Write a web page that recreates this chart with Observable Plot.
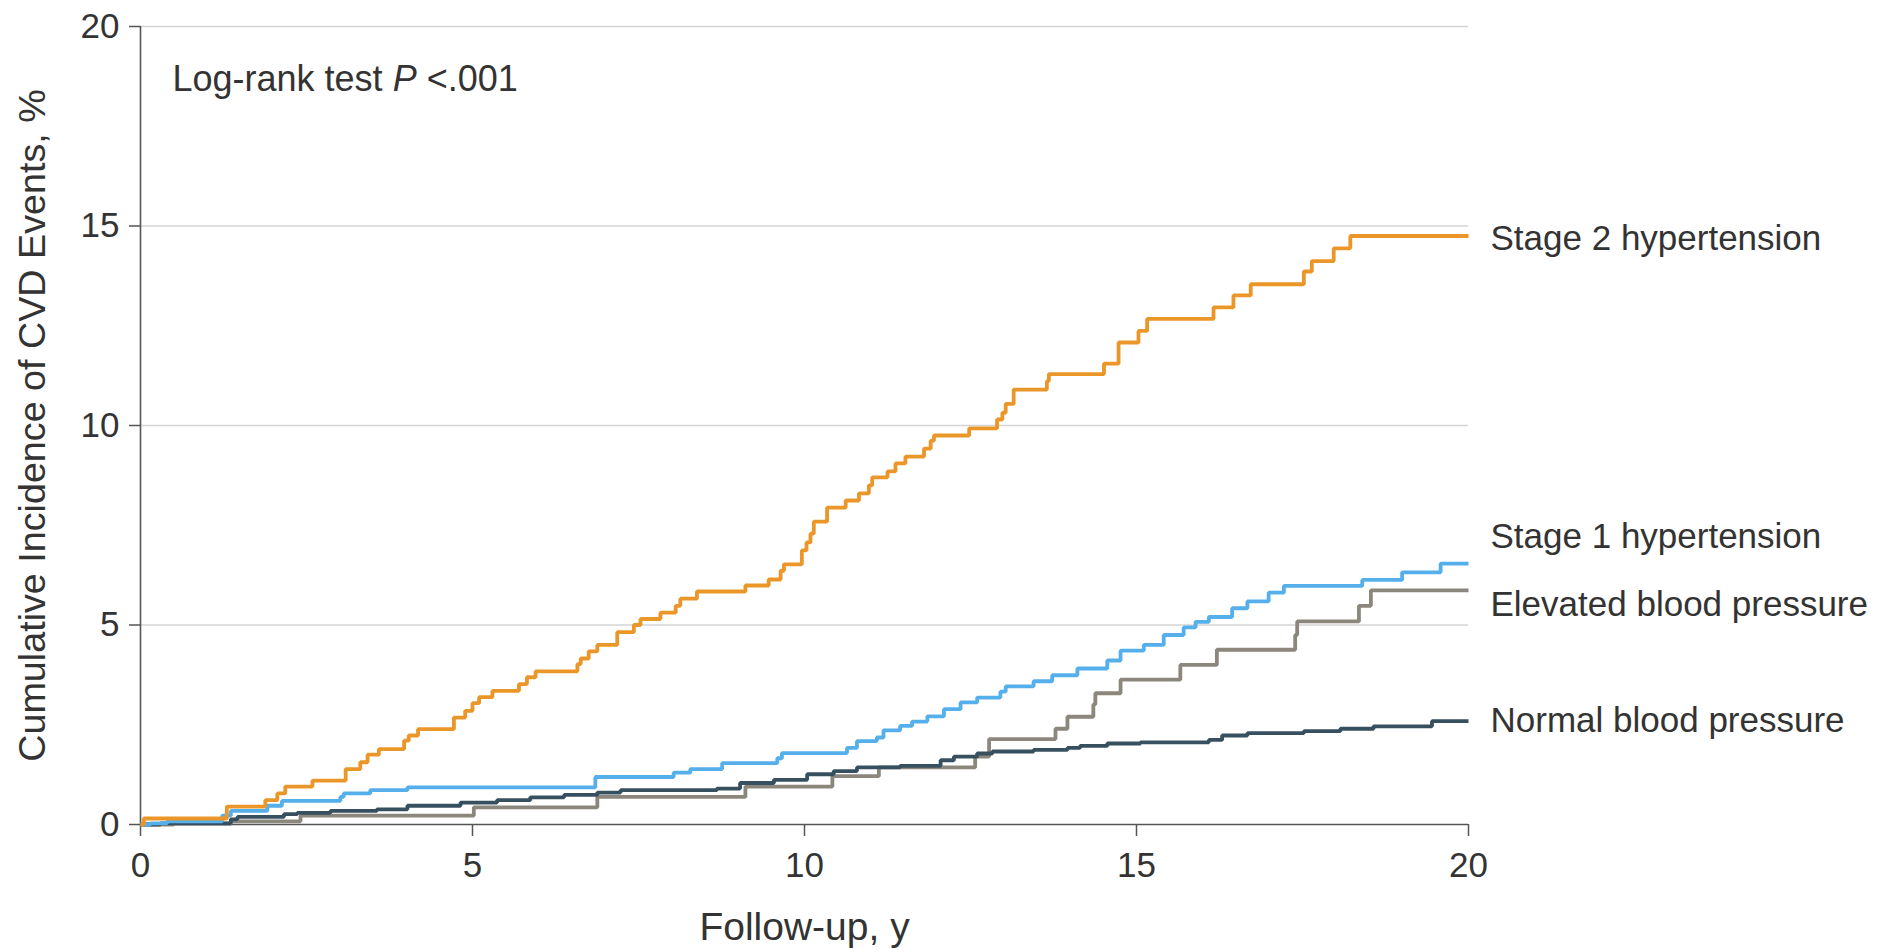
<!DOCTYPE html>
<html>
<head>
<meta charset="utf-8">
<script src="https://cdn.jsdelivr.net/npm/d3@7"></script>
<script src="https://cdn.jsdelivr.net/npm/@observablehq/plot@0.6"></script>
<style>
  html, body { margin: 0; padding: 0; background: #ffffff; }
  #chart { width: 1877px; height: 952px; }
</style>
</head>
<body>
<div id="chart"></div>
<script>
// ---------- data ----------
const seriesNames = ["Stage 2 hypertension", "Stage 1 hypertension", "Elevated blood pressure", "Normal blood pressure"];

const stage2Time = [0, 0.05, 1.3, 1.88, 2.06, 2.18, 2.59, 3.09, 3.31, 3.42, 3.59, 3.97, 4.04, 4.18, 4.72, 4.89, 5.0, 5.1, 5.3, 5.7, 5.82, 5.95, 6.58, 6.63, 6.75, 6.88, 7.18, 7.43, 7.53, 7.83, 8.06, 8.13, 8.38, 9.11, 9.46, 9.64, 9.69, 9.96, 10.03, 10.09, 10.14, 10.34, 10.62, 10.82, 10.97, 11.02, 11.25, 11.37, 11.52, 11.80, 11.90, 11.95, 12.48, 12.9, 12.98, 13.03, 13.15, 13.65, 13.68, 14.51, 14.73, 15.03, 15.16, 16.16, 16.46, 16.72, 17.52, 17.64, 17.97, 18.22, 20];
const stage2Pct  = [0, 0.15, 0.45, 0.61, 0.78, 0.95, 1.10, 1.39, 1.56, 1.75, 1.89, 2.10, 2.23, 2.39, 2.68, 2.85, 3.04, 3.19, 3.35, 3.52, 3.69, 3.84, 4.02, 4.16, 4.34, 4.50, 4.82, 5.0, 5.15, 5.31, 5.48, 5.66, 5.84, 5.99, 6.14, 6.36, 6.52, 6.87, 7.07, 7.29, 7.59, 7.94, 8.12, 8.30, 8.50, 8.70, 8.85, 9.05, 9.22, 9.42, 9.62, 9.75, 9.93, 10.15, 10.32, 10.54, 10.9, 11.11, 11.29, 11.55, 12.08, 12.37, 12.67, 12.96, 13.26, 13.54, 13.86, 14.12, 14.44, 14.75, 14.75];

const stage1Time = [0, 0.15, 0.4, 1.23, 1.36, 1.91, 2.13, 3.01, 3.06, 3.46, 4.02, 6.85, 8.03, 8.28, 8.76, 9.59, 9.66, 10.64, 10.79, 11.09, 11.19, 11.44, 11.62, 11.85, 12.1, 12.35, 12.6, 12.95, 13.03, 13.45, 13.73, 14.11, 14.56, 14.76, 15.11, 15.41, 15.71, 15.89, 16.09, 16.44, 16.67, 16.99, 17.22, 18.4, 19.0, 19.58, 20];
const stage1Pct  = [0, 0.03, 0.08, 0.22, 0.34, 0.47, 0.59, 0.69, 0.78, 0.86, 0.93, 1.19, 1.30, 1.39, 1.54, 1.66, 1.79, 1.92, 2.09, 2.18, 2.36, 2.47, 2.58, 2.71, 2.89, 3.06, 3.18, 3.33, 3.46, 3.59, 3.74, 3.91, 4.11, 4.36, 4.50, 4.75, 4.94, 5.08, 5.20, 5.42, 5.59, 5.81, 5.98, 6.13, 6.32, 6.54, 6.54];

const elevatedTime = [0, 0.5, 1.36, 2.41, 5.02, 6.88, 9.11, 10.42, 11.12, 12.57, 12.78, 13.78, 13.96, 14.35, 14.38, 14.76, 15.66, 16.21, 17.39, 17.42, 18.35, 18.53, 20];
const elevatedPct  = [0, 0.02, 0.08, 0.22, 0.43, 0.69, 0.95, 1.21, 1.43, 1.70, 2.14, 2.40, 2.70, 3.01, 3.29, 3.63, 4.0, 4.38, 4.75, 5.09, 5.48, 5.87, 5.87];

const normalTime = [0, 0.3, 1.36, 1.46, 2.16, 2.36, 2.86, 3.56, 4.02, 4.82, 5.37, 5.87, 6.38, 6.88, 7.23, 8.68, 9.03, 9.54, 10.04, 10.44, 10.79, 11.44, 12.05, 12.25, 12.6, 12.83, 13.45, 13.96, 14.15, 14.56, 15.06, 16.09, 16.29, 16.67, 17.52, 18.07, 18.57, 19.45, 20];
const normalPct  = [0, 0.03, 0.13, 0.19, 0.26, 0.29, 0.34, 0.38, 0.47, 0.55, 0.61, 0.68, 0.74, 0.80, 0.86, 0.90, 1.04, 1.12, 1.26, 1.34, 1.43, 1.47, 1.61, 1.70, 1.78, 1.83, 1.87, 1.92, 1.97, 2.03, 2.06, 2.12, 2.23, 2.29, 2.34, 2.40, 2.46, 2.59, 2.59];

// label anchor heights (percent) for the end-of-line labels
const labelPct = [14.69, 7.21, 5.50, 2.61];

const xTicks = [0, 5, 10, 15, 20];
const yTicks = [0, 5, 10, 15, 20];
const gridValues = [5, 10, 15, 20];

const xLabel = "Follow-up, y";
const yLabel = "Cumulative Incidence of CVD Events, %";
const noteText = "Log-rank test P <.001";

// ---------- styles ----------
const seriesColors = {
  "Stage 2 hypertension": "#EB9628",
  "Stage 1 hypertension": "#55AFEB",
  "Elevated blood pressure": "#8C877D",
  "Normal blood pressure": "#37505F"
};
const drawOrder = ["Elevated blood pressure", "Normal blood pressure", "Stage 1 hypertension", "Stage 2 hypertension"];

// ---------- build rows ----------
const seriesData = {
  "Stage 2 hypertension": [stage2Time, stage2Pct],
  "Stage 1 hypertension": [stage1Time, stage1Pct],
  "Elevated blood pressure": [elevatedTime, elevatedPct],
  "Normal blood pressure": [normalTime, normalPct]
};
function rowsFor(name) {
  const [ts, vs] = seriesData[name];
  return ts.map((t, i) => ({name, t, v: vs[i]}));
}
const labelRows = seriesNames.map((name, i) => ({name, y: labelPct[i]}));

const textColor = "#333333";
const axisColor = "#555555";
const fontFamily = "'Liberation Sans', Arial, Helvetica, sans-serif";

const chart = Plot.plot({
  width: 1877,
  height: 952,
  marginLeft: 140,
  marginRight: 409,
  marginTop: 26,
  marginBottom: 128,
  style: {fontFamily, fontSize: "35px", color: textColor, background: "#ffffff", overflow: "visible"},
  x: {domain: [0, 20], label: null},
  y: {domain: [0, 20], label: null},
  marks: [
    Plot.ruleY(gridValues, {stroke: "#d4d4d4", strokeWidth: 1.6}),
    Plot.axisX({ticks: xTicks, tickSize: 12, tickPadding: 16, stroke: axisColor, strokeWidth: 1.5, fill: textColor, label: null, tickFormat: d3.format("d")}),
    Plot.axisY({ticks: yTicks, tickSize: 11, tickPadding: 10, stroke: axisColor, strokeWidth: 1.5, fill: textColor, label: null, tickFormat: d3.format("d")}),
    Plot.ruleX([0], {stroke: axisColor, strokeWidth: 1.6}),
    Plot.ruleY([0], {stroke: axisColor, strokeWidth: 1.6}),
    ...drawOrder.map(name => Plot.line(rowsFor(name), {
      x: "t", y: "v", curve: "step-after",
      stroke: seriesColors[name], strokeWidth: 3.8, strokeLinejoin: "miter", strokeLinecap: "butt"
    })),
    Plot.text(labelRows, {
      x: 20, y: "y", text: "name", dx: 22, textAnchor: "start", lineAnchor: "middle",
      fill: textColor, fontSize: 35
    }),
    Plot.text([noteText], {
      frameAnchor: "top-left", dx: 32, dy: 39, textAnchor: "start", lineAnchor: "top",
      fill: textColor, fontSize: 36
    }),
    Plot.text([xLabel], {
      frameAnchor: "bottom", dy: 103.5, textAnchor: "middle", lineAnchor: "middle",
      fill: textColor, fontSize: 39
    }),
    Plot.text([yLabel], {
      frameAnchor: "left", dx: -108, dy: 0, rotate: -90, textAnchor: "middle", lineAnchor: "middle",
      fill: textColor, fontSize: 37.7
    })
  ]
});

// italicize the P in the log-rank note
chart.querySelectorAll("text").forEach(el => {
  if (el.textContent === noteText) {
    while (el.firstChild) el.removeChild(el.firstChild);
    const ns = "http://www.w3.org/2000/svg";
    const a = document.createElementNS(ns, "tspan"); a.textContent = "Log-rank test ";
    const p = document.createElementNS(ns, "tspan"); p.textContent = "P"; p.setAttribute("font-style", "italic");
    const b = document.createElementNS(ns, "tspan"); b.textContent = " <.001";
    el.append(a, p, b);
  }
});

document.getElementById("chart").appendChild(chart);
</script>
</body>
</html>
